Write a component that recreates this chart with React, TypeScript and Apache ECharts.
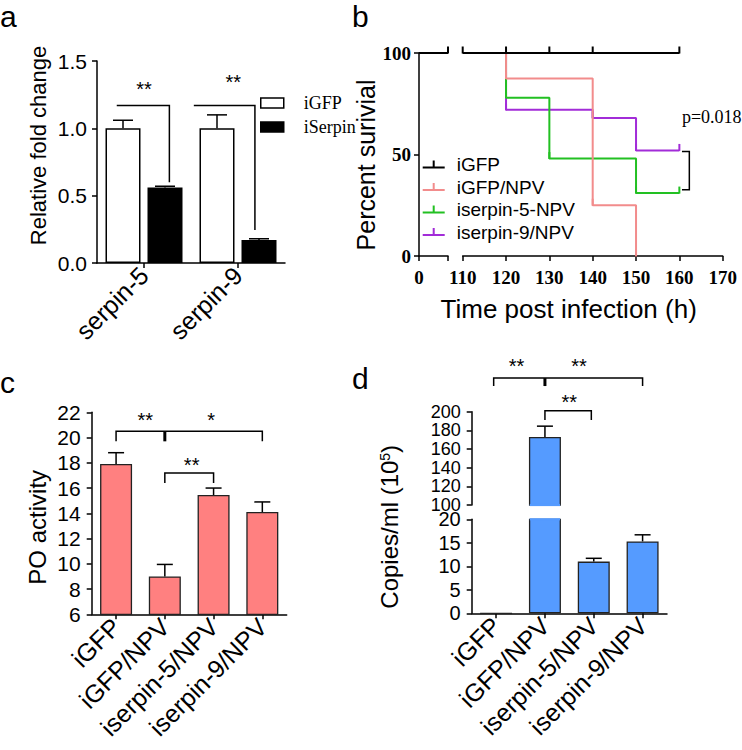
import React, { useEffect, useRef } from 'react';
import * as echarts from 'echarts';

const SANS = "'Liberation Sans', Arial, Helvetica, sans-serif";
const SERIF = "'Liberation Serif', 'Times New Roman', serif";

// ---------- Panel a ----------
const aCategories = ['serpin-5', 'serpin-9'];
const aGFP = [1.0, 1.0];
const aGFPErr = [0.06, 0.1];
const aSerpin = [0.56, 0.17];
const aSerpinErr = [0.01, 0.01];
const aBrackets = [
  [[-0.29, 1.17], [0.27, 1.17], [0.27, 0.6]],
  [[0.53, 1.17], [1.18, 1.17], [1.18, 0.245]],
];
const aStars = [
  { x: 0.0, y: 1.33, t: '**' },
  { x: 0.95, y: 1.38, t: '**' },
];

// ---------- Panel b ----------
const bNames = ['iGFP', 'iGFP/NPV', 'iserpin-5-NPV', 'iserpin-9/NPV'];
const bColors = ['#000000', '#F28C8C', '#22C022', '#A22CD8'];
const bGFPEarly = [[0, 100], [10, 100]];
const bGFP = [[110, 100], [120, 100], [130, 100], [140, 100], [160, 100]];
const bGFPNPV = [[120, 100], [120, 87.5], [140, 25], [150, 0]];
const bSerpin5 = [[120, 100], [120, 78], [130, 48], [150, 31], [160, 31]];
const bSerpin9 = [[120, 100], [120, 72], [140, 68], [150, 52], [160, 52]];
const bBracket = [[160.6, 51.5], [162.3, 51.5], [162.3, 32.6], [160.6, 32.6]];
const bPLabel = { x: 160.6, y: 68.4, t: 'p=0.018' };

// ---------- Panel c ----------
const cCategories = ['iGFP', 'iGFP/NPV', 'iserpin-5/NPV', 'iserpin-9/NPV'];
const cValues = [17.9, 9.0, 15.45, 14.1];
const cErrors = [0.9, 0.95, 0.55, 0.8];
const cBrackets = [
  { w: 1.5, pts: [[0, 19.7], [0, 20.5], [3, 20.5], [3, 19.7]] },
  { w: 3, pts: [[1, 20.5], [1, 19.7]] },
  { w: 1.5, pts: [[1, 16.4], [1, 17.2], [2, 17.2], [2, 16.4]] },
];
const cStars = [
  { x: 0.6, y: 21.8, t: '**' },
  { x: 1.95, y: 21.8, t: '*' },
  { x: 1.55, y: 18.2, t: '**' },
];

// ---------- Panel d ----------
const dCategories = ['iGFP', 'iGFP/NPV', 'iserpin-5/NPV', 'iserpin-9/NPV'];
const dValues = [0, 173, 11, 15.3];
const dErrors = [0, 11.5, 0.7, 1.4];
const dBreak = { low: 20, high: 100 };
const dBrackets = [
  { w: 1.5, pts: [[-0.05, 227.5], [-0.05, 236], [3, 236], [3, 227.5]] },
  { w: 3, pts: [[1, 236], [1, 227.5]] },
  { w: 1.5, pts: [[1, 191], [1, 201], [1.95, 201], [1.95, 191]] },
];
const dStars = [
  { x: 0.42, y: 254.5, t: '**' },
  { x: 1.7, y: 254.5, t: '**' },
  { x: 1.5, y: 216, t: '**' },
];

const A_BAR_WIDTH = 35;
const A_BAR_GAP = 0.2;
const CD_BAR_WIDTH = 32;
const BAR_BORDER = 1.3;
const D_COLOR = '#559BFF';
const LEGEND_TICK_ICON = 'path://M0,6 L22,6 L22,8 L0,8 Z M10,0 L12,0 L12,6 L10,6 Z';

const axisLine = { show: true, onZero: false, lineStyle: { color: '#000', width: 1.5 } };
const axisTick = { show: true, length: 5, lineStyle: { color: '#000', width: 1.5 } };
const noSplit = { show: false };

function errRender(offset: number, cap: number) {
  return (params: any, api: any) => {
    const x = api.value(0);
    const y = api.value(1);
    const e = api.value(2);
    const side = api.value(3);
    const p0 = api.coord([x, y]);
    const p1 = api.coord([x, y + e]);
    const cx = p0[0] + side * offset;
    const st = { stroke: '#000', lineWidth: 1.5 };
    return {
      type: 'group',
      children: [
        { type: 'line', shape: { x1: cx, y1: p0[1], x2: cx, y2: p1[1] }, style: st },
        { type: 'line', shape: { x1: cx - cap, y1: p1[1], x2: cx + cap, y2: p1[1] }, style: st },
      ],
    };
  };
}

function hideFirst(pts: number[][]) {
  return pts.map((p, i) => (i === 0 ? { value: p, symbol: 'none' } : p));
}

function lineCommon(color: string) {
  return {
    type: 'line',
    lineStyle: { color, width: 2 },
    itemStyle: { color, borderWidth: 0 },
    symbol: 'rect',
    symbolSize: [2, 7],
    symbolOffset: [0, -3],
    showSymbol: true,
    showAllSymbol: true,
    clip: false,
    emphasis: { disabled: true },
  };
}

function buildOption(): any {
  const valLabel = (size: number) => ({ fontSize: size, fontFamily: SANS, color: '#000' });
  const catLabel = { rotate: 45, interval: 0, fontSize: 25, fontFamily: SANS, color: '#000', margin: 8 };
  const aOff = (A_BAR_WIDTH * (1 + A_BAR_GAP)) / 2;
  return {
    animation: false,
    backgroundColor: '#fff',
    grid: [
      { left: 97, top: 61, width: 188, height: 202 },
      { left: 419, top: 53, width: 29, height: 203 },
      { left: 462.7, top: 53, width: 260, height: 203 },
      { left: 91.7, top: 412.3, width: 195, height: 202 },
      { left: 471.7, top: 411.7, width: 195.3, height: 93.3 },
      { left: 471.7, top: 519.3, width: 195.3, height: 94 },
    ],
    xAxis: [
      { type: 'category', gridIndex: 0, data: aCategories, axisLine, axisTick: { ...axisTick, alignWithLabel: true }, axisLabel: catLabel, splitLine: noSplit },
      {
        type: 'value', gridIndex: 1, min: 0, max: 10, interval: 10, axisLine, axisTick, splitLine: noSplit,
        axisLabel: { fontSize: 19, fontFamily: SERIF, fontWeight: 'bold', color: '#000', margin: 12, formatter: (v: number) => (v === 0 ? '0' : '') },
      },
      {
        type: 'value', gridIndex: 2, min: 110, max: 170, interval: 10, axisLine, axisTick, splitLine: noSplit,
        axisLabel: { fontSize: 19, fontFamily: SERIF, fontWeight: 'bold', color: '#000', margin: 12 },
        name: 'Time post infection (h)', nameLocation: 'middle', nameGap: 40,
        nameTextStyle: { fontSize: 26, fontFamily: SANS, color: '#000', padding: [0, 48, 0, 0] },
      },
      { type: 'category', gridIndex: 3, data: cCategories, axisLine, axisTick: { ...axisTick, alignWithLabel: true }, axisLabel: catLabel, splitLine: noSplit },
      { type: 'category', gridIndex: 4, data: dCategories, show: false },
      { type: 'category', gridIndex: 5, data: dCategories, axisLine, axisTick: { ...axisTick, alignWithLabel: true }, axisLabel: catLabel, splitLine: noSplit },
    ],
    yAxis: [
      {
        type: 'value', gridIndex: 0, min: 0, max: 1.5, interval: 0.5, axisLine, axisTick, splitLine: noSplit,
        axisLabel: { ...valLabel(21), margin: 10, formatter: (v: number) => v.toFixed(1) },
        name: 'Relative fold change', nameLocation: 'middle', nameGap: 48,
        nameTextStyle: { fontSize: 22, fontFamily: SANS, color: '#000', padding: [0, 0, 0, 33] },
      },
      {
        type: 'value', gridIndex: 1, min: 0, max: 100, interval: 50, axisLine, axisTick, splitLine: noSplit,
        axisLabel: { fontSize: 19, fontFamily: SERIF, fontWeight: 'bold', color: '#000', margin: 8 },
        name: 'Percent surivial', nameLocation: 'middle', nameGap: 32,
        nameTextStyle: { fontSize: 25, fontFamily: SANS, color: '#000', padding: [0, 21, 0, 0] },
      },
      { type: 'value', gridIndex: 2, min: 0, max: 100, show: false, splitLine: noSplit },
      {
        type: 'value', gridIndex: 3, min: 6, max: 22, interval: 2, axisLine, axisTick, splitLine: noSplit,
        axisLabel: { ...valLabel(21), margin: 11 },
        name: 'PO activity', nameLocation: 'middle', nameGap: 42,
        nameTextStyle: { fontSize: 24, fontFamily: SANS, color: '#000', padding: [0, 28, 0, 0] },
      },
      {
        type: 'value', gridIndex: 4, min: dBreak.high, max: 200, interval: 20, axisLine, axisTick, splitLine: noSplit,
        axisLabel: { ...valLabel(18), lineHeight: 16, margin: 11, showMinLabel: true, showMaxLabel: true, hideOverlap: false },
      },
      {
        type: 'value', gridIndex: 5, min: 0, max: dBreak.low, interval: 5, axisLine, axisTick, splitLine: noSplit,
        axisLabel: { ...valLabel(20), lineHeight: 16, margin: 11 },
        name: 'Copies/ml (10{sup|5})', nameLocation: 'middle', nameGap: 70,
        nameTextStyle: {
          fontSize: 24, fontFamily: SANS, color: '#000', padding: [0, 0, 0, 79],
          rich: { sup: { fontSize: 14, fontFamily: SANS, color: '#000', verticalAlign: 'top' } },
        },
      },
    ],
    legend: [
      {
        left: 260, top: 94, orient: 'vertical', padding: 0, itemGap: 6, itemWidth: 23, itemHeight: 10, selectedMode: false,
        textStyle: { fontFamily: SERIF, fontSize: 18, color: '#000', padding: [0, 0, 0, 15] },
        data: [
          { name: 'iGFP', icon: 'rect', itemStyle: { color: '#fff', borderColor: '#000', borderWidth: 1.5 } },
          { name: 'iSerpin', icon: 'rect', itemStyle: { color: '#000', borderColor: '#000', borderWidth: 1.5 } },
        ],
      },
      {
        left: 422.7, top: 155, orient: 'vertical', padding: 0, itemGap: 3.5, itemWidth: 22, itemHeight: 8, selectedMode: false,
        textStyle: { fontFamily: SANS, fontSize: 19, color: '#000', padding: [0, 0, 0, 7] },
        data: bNames.map((n, i) => ({ name: n, icon: LEGEND_TICK_ICON, itemStyle: { color: bColors[i], borderColor: bColors[i], borderWidth: 0 } })),
      },
    ],
    series: [
      // Panel b survival curves
      { ...lineCommon(bColors[0]), name: bNames[0], xAxisIndex: 1, yAxisIndex: 1, data: hideFirst(bGFPEarly), z: 6 },
      { ...lineCommon(bColors[0]), name: bNames[0], xAxisIndex: 2, yAxisIndex: 2, data: bGFP, z: 6 },
      { ...lineCommon(bColors[1]), name: bNames[1], xAxisIndex: 2, yAxisIndex: 2, step: 'end', data: hideFirst(bGFPNPV), z: 5 },
      { ...lineCommon(bColors[2]), name: bNames[2], xAxisIndex: 2, yAxisIndex: 2, step: 'end', data: hideFirst(bSerpin5), z: 4 },
      { ...lineCommon(bColors[3]), name: bNames[3], xAxisIndex: 2, yAxisIndex: 2, step: 'end', data: hideFirst(bSerpin9), z: 3 },
      // Panel a
      { name: 'iGFP', type: 'bar', xAxisIndex: 0, yAxisIndex: 0, data: aGFP, barWidth: A_BAR_WIDTH, barGap: `${A_BAR_GAP * 100}%`, itemStyle: { color: '#fff', borderColor: '#000', borderWidth: 1.5 } },
      { name: 'iSerpin', type: 'bar', xAxisIndex: 0, yAxisIndex: 0, data: aSerpin, barWidth: A_BAR_WIDTH, barGap: `${A_BAR_GAP * 100}%`, itemStyle: { color: '#000', borderColor: '#000', borderWidth: 1.5 } },
      {
        name: 'a-error', type: 'custom', xAxisIndex: 0, yAxisIndex: 0, z: 4, renderItem: errRender(aOff, 10),
        data: [...aGFP.map((v, i) => [i, v, aGFPErr[i], -1]), ...aSerpin.map((v, i) => [i, v, aSerpinErr[i], 1])],
      },
      // Panel c
      { name: 'PO activity', type: 'bar', xAxisIndex: 3, yAxisIndex: 3, data: cValues, barWidth: CD_BAR_WIDTH, itemStyle: { color: '#FF8080', borderColor: '#222', borderWidth: BAR_BORDER } },
      { name: 'c-error', type: 'custom', xAxisIndex: 3, yAxisIndex: 3, z: 4, renderItem: errRender(0, 8), data: cValues.map((v, i) => [i, v, cErrors[i], 0]) },
      // Panel d (broken axis)
      { name: 'Copies top', type: 'bar', xAxisIndex: 4, yAxisIndex: 4, data: dValues.map((v) => (v >= dBreak.high ? v : '-')), barWidth: CD_BAR_WIDTH, itemStyle: { color: D_COLOR, borderColor: '#222', borderWidth: BAR_BORDER } },
      { name: 'Copies bottom', type: 'bar', xAxisIndex: 5, yAxisIndex: 5, data: dValues, barWidth: CD_BAR_WIDTH, itemStyle: { color: D_COLOR, borderColor: '#222', borderWidth: BAR_BORDER } },
      {
        name: 'd-error-top', type: 'custom', xAxisIndex: 4, yAxisIndex: 4, z: 4, renderItem: errRender(0, 8),
        data: dValues.map((v, i) => [i, v, dErrors[i], 0]).filter((d) => d[1] >= dBreak.high),
      },
      {
        name: 'd-error-bottom', type: 'custom', xAxisIndex: 5, yAxisIndex: 5, z: 4, renderItem: errRender(0, 8),
        data: dValues.map((v, i) => [i, v, dErrors[i], 0]).filter((d) => d[1] > 0 && d[1] <= dBreak.low),
      },
    ],
  };
}

function buildGraphic(chart: any) {
  const els: any[] = [];
  const pt = (grid: number, x: number, y: number, cat: boolean) => {
    if (cat) {
      const p0 = chart.convertToPixel({ gridIndex: grid }, [0, y]);
      const p1 = chart.convertToPixel({ gridIndex: grid }, [1, y]);
      return [p0[0] + (p1[0] - p0[0]) * x, p0[1]];
    }
    return chart.convertToPixel({ gridIndex: grid }, [x, y]);
  };
  const addLine = (grid: number, cat: boolean, pts: number[][], w: number) => {
    els.push({
      type: 'polyline', z: 100,
      shape: { points: pts.map((p) => pt(grid, p[0], p[1], cat)) },
      style: { stroke: '#000', lineWidth: w, fill: null },
    });
  };
  const addText = (grid: number, cat: boolean, s: { x: number; y: number; t: string }, font: string, size: number, align: string, dy: number) => {
    const p = pt(grid, s.x, s.y, cat);
    els.push({
      type: 'text', z: 100, x: p[0], y: p[1] + dy,
      style: { text: s.t, fontSize: size, fontFamily: font, fill: '#000', align, verticalAlign: 'middle' },
    });
  };
  aBrackets.forEach((b) => addLine(0, true, b, 1.5));
  aStars.forEach((s) => addText(0, true, s, SANS, 20, 'center', 5));
  addLine(2, false, bBracket, 1.5);
  addText(2, false, bPLabel, SERIF, 18, 'left', 0);
  cBrackets.forEach((b) => addLine(3, true, b.pts, b.w));
  cStars.forEach((s) => addText(3, true, s, SANS, 20, 'center', 5));
  dBrackets.forEach((b) => addLine(4, true, b.pts, b.w));
  dStars.forEach((s) => addText(4, true, s, SANS, 20, 'center', 5));

  // hide the bar outline along the axis break (bar continues across the gap)
  dValues.forEach((v, i) => {
    if (v < dBreak.high) return;
    const lo = pt(5, i, dBreak.low, true);
    const hi = pt(4, i, dBreak.high, true);
    const half = CD_BAR_WIDTH / 2 - BAR_BORDER / 2 - 0.2;
    [lo[1], hi[1]].forEach((y) =>
      els.push({
        type: 'line', z: 50,
        shape: { x1: lo[0] - half, y1: y, x2: lo[0] + half, y2: y },
        style: { stroke: D_COLOR, lineWidth: 2.2 },
      })
    );
  });

  const panelLabels = [
    { t: 'a', x: 0, y: 31 },
    { t: 'b', x: 352, y: 31 },
    { t: 'c', x: 0, y: 397 },
    { t: 'd', x: 352, y: 393 },
  ];
  panelLabels.forEach((l) =>
    els.push({
      type: 'text', z: 100, x: l.x, y: l.y,
      style: { text: l.t, fontSize: 30, fontFamily: SANS, fill: '#000', align: 'left', verticalAlign: 'bottom' },
    })
  );
  return els;
}

export default function App() {
  const ref = useRef<HTMLDivElement>(null);
  useEffect(() => {
    const el = ref.current;
    if (!el) return;
    const chart = echarts.init(el, null, { renderer: 'svg' });
    chart.setOption(buildOption());
    chart.setOption({ graphic: buildGraphic(chart) });
    return () => chart.dispose();
  }, []);
  return <div ref={ref} style={{ position: 'absolute', left: 0, top: 0, width: 742, height: 750 }} />;
}
